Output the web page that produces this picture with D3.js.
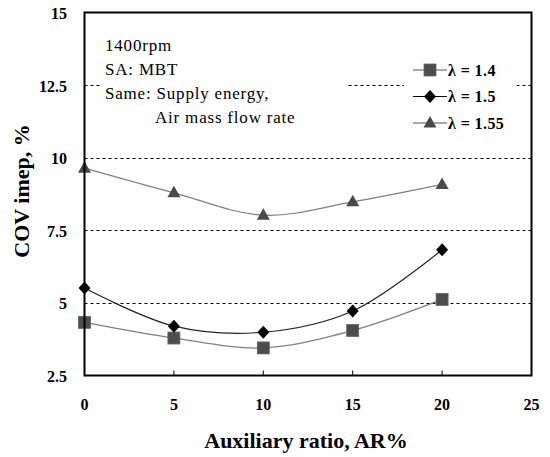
<!DOCTYPE html>
<html>
<head>
<meta charset="utf-8">
<script src="https://cdn.jsdelivr.net/npm/d3@7"></script>
<style>
  html, body { margin: 0; padding: 0; background: #fff; }
  svg { display: block; }
  text { font-family: "Liberation Serif", "Times New Roman", serif; fill: #000; }
</style>
</head>
<body>
<div id="chart"></div>
<script>
// ---- data ----
const arValues = [0, 5, 10, 15, 20];
const lambda14 = [4.33, 3.79, 3.45, 4.05, 5.12];
const lambda15 = [5.51, 4.20, 3.99, 4.72, 6.83];
const lambda155 = [9.64, 8.79, 8.02, 8.48, 9.08];
const seriesNames = ["λ = 1.4", "λ = 1.5", "λ = 1.55"];
const xTicks = [0, 5, 10, 15, 20, 25];
const yTicks = [2.5, 5, 7.5, 10, 12.5, 15];
const yTickLabels = ["2.5", "5", "7.5", "10", "12.5", "15"];
const gridValues = [5, 7.5, 10, 12.5];
const annotationLines = ["1400rpm", "SA: MBT", "Same: Supply energy,", "Air mass flow rate"];

const W = 550, H = 457;
const pLeft = 84.5, pRight = 531.5, pTop = 12.5, pBottom = 375.5;

const svg = d3.select("#chart").append("svg").attr("width", W).attr("height", H);

const x = d3.scaleLinear().domain([0, 25]).range([pLeft, pRight]);
const y = d3.scaleLinear().domain([2.5, 15]).range([pBottom, pTop]);

// gridlines
svg.append("g").selectAll("line").data(gridValues).join("line")
  .attr("x1", pLeft).attr("x2", pRight)
  .attr("y1", d => Math.round(y(d)) + 0.5).attr("y2", d => Math.round(y(d)) + 0.5)
  .attr("stroke", "#000").attr("stroke-width", 1).attr("stroke-dasharray", "3,3");

// annotation background + text
svg.append("rect").attr("x", 101).attr("y", 30).attr("width", 246).attr("height", 100).attr("fill", "#fff");
const annX = [105, 105, 105, 155];
const annY = [51, 75, 99, 123];
svg.append("g").selectAll("text").data(annotationLines).join("text")
  .attr("x", (d, i) => annX[i]).attr("y", (d, i) => annY[i])
  .attr("font-size", 17).attr("letter-spacing", 0.8)
  .text(d => d);

// legend background
svg.append("rect").attr("x", 404).attr("y", 55).attr("width", 113).attr("height", 80).attr("fill", "#fff");

// x ticks inside
svg.append("g").selectAll("line").data(xTicks.slice(1, -1)).join("line")
  .attr("x1", d => x(d)).attr("x2", d => x(d))
  .attr("y1", pBottom).attr("y2", pBottom - 5)
  .attr("stroke", "#000").attr("stroke-width", 1);

// series
const series = [
  { name: seriesNames[0], vals: lambda14, line: "#808080", fill: "#4d4d4d", marker: "square" },
  { name: seriesNames[1], vals: lambda15, line: "#222", fill: "#000", marker: "diamond" },
  { name: seriesNames[2], vals: lambda155, line: "#808080", fill: "#4a4a4a", marker: "triangle" }
];

const lineGen = d3.line().x(d => x(d[0])).y(d => y(d[1])).curve(d3.curveCatmullRom.alpha(0.5));

function drawMarker(g, type, cx, cy, fill) {
  if (type === "square") {
    g.append("rect").attr("x", cx - 6).attr("y", cy - 6).attr("width", 12).attr("height", 12)
      .attr("fill", fill).attr("stroke", "#666").attr("stroke-width", 0.8);
  } else if (type === "diamond") {
    g.append("path").attr("d", `M${cx},${cy - 6.5}L${cx + 6},${cy}L${cx},${cy + 6.5}L${cx - 6},${cy}Z`)
      .attr("fill", fill);
  } else {
    g.append("path").attr("d", `M${cx},${cy - 7}L${cx + 6.5},${cy + 4.5}L${cx - 6.5},${cy + 4.5}Z`)
      .attr("fill", fill);
  }
}

series.forEach(s => {
  const pts = arValues.map((a, i) => [a, s.vals[i]]);
  svg.append("path").attr("d", lineGen(pts)).attr("fill", "none")
    .attr("stroke", s.line).attr("stroke-width", 1.2);
  const g = svg.append("g");
  pts.forEach(p => drawMarker(g, s.marker, x(p[0]), y(p[1]), s.fill));
});

// legend
const legY = [70, 96.5, 123];
series.forEach((s, i) => {
  svg.append("line").attr("x1", 413).attr("x2", 447).attr("y1", legY[i]).attr("y2", legY[i])
    .attr("stroke", s.line === "#808080" ? "#555" : "#000").attr("stroke-width", 1.2);
  drawMarker(svg.append("g"), s.marker, 430, legY[i], s.fill);
  svg.append("text").attr("x", 448).attr("y", legY[i] + 5.5)
    .attr("font-size", 16).attr("font-weight", "bold").attr("letter-spacing", 0.4).text(s.name);
});

// frame
svg.append("rect").attr("x", pLeft).attr("y", pTop).attr("width", pRight - pLeft).attr("height", pBottom - pTop)
  .attr("fill", "none").attr("stroke", "#000").attr("stroke-width", 2);

// y tick labels
svg.append("g").selectAll("text").data(yTicks).join("text")
  .attr("x", 67).attr("y", d => y(d) + 6.5)
  .attr("text-anchor", "end").attr("font-size", 16).attr("font-weight", "bold")
  .text((d, i) => yTickLabels[i]);

// x tick labels
svg.append("g").selectAll("text").data(xTicks).join("text")
  .attr("x", d => x(d)).attr("y", 410)
  .attr("text-anchor", "middle").attr("font-size", 16).attr("font-weight", "bold")
  .text(d => d);

// axis titles
svg.append("text").attr("x", 306).attr("y", 448).attr("text-anchor", "middle")
  .attr("font-size", 22).attr("font-weight", "bold").text("Auxiliary ratio, AR%");
svg.append("text").attr("transform", "translate(29,191) rotate(-90)").attr("text-anchor", "middle")
  .attr("font-size", 22).attr("font-weight", "bold").text("COV imep, %");
</script>
</body>
</html>
